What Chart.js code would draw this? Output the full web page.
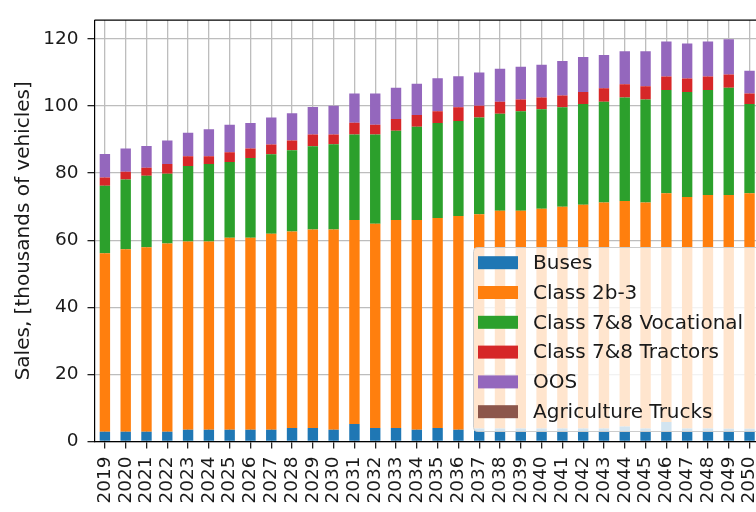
<!DOCTYPE html>
<html>
<head>
<meta charset="utf-8">
<script src="https://cdn.jsdelivr.net/npm/chart.js@4.4.1/dist/chart.umd.min.js"></script>
<style>
  html, body { margin: 0; padding: 0; overflow: hidden; background: #fff; }
  canvas { display: block; }
</style>
</head>
<body>
<canvas id="salesChart" width="780" height="512"></canvas>
<script>
// values, thousands of vehicles
const years = [];
for (let y = 2019; y <= 2050; y++) years.push(String(y));

const buses = [2.9, 2.9, 2.9, 2.9, 3.5, 3.5, 3.5, 3.5, 3.5, 4.0, 4.0, 3.5, 5.2, 4.0, 4.0, 3.5,
  4.0, 3.5, 3.9, 3.9, 3.9, 3.9, 3.9, 3.9, 3.9, 4.5, 3.9, 5.8, 3.9, 3.9, 3.8, 3.8];
const class2b3 = [53.2, 54.4, 55.0, 56.1, 56.1, 56.1, 57.2, 57.2, 58.4, 58.6, 59.2, 59.7, 60.8, 60.9, 62.0, 62.5,
  62.6, 63.7, 63.8, 64.9, 64.9, 65.5, 66.1, 66.7, 67.3, 67.2, 67.3, 68.2, 69.0, 69.6, 69.7, 70.2];
const vocational = [20.1, 20.8, 21.3, 20.8, 22.5, 23.1, 22.6, 23.8, 23.7, 24.2, 24.8, 25.4, 25.5, 26.6, 26.6, 27.8,
  28.3, 28.3, 28.9, 28.9, 29.6, 29.6, 29.6, 30.0, 30.1, 30.8, 30.7, 30.8, 31.3, 31.3, 31.9, 26.6];
const tractors = [2.5, 2.3, 2.4, 2.9, 2.9, 2.3, 2.9, 2.8, 2.9, 2.9, 3.5, 2.9, 3.5, 2.9, 3.5, 3.5,
  3.5, 4.1, 3.5, 3.6, 3.5, 3.5, 3.5, 3.6, 4.0, 4.0, 4.0, 4.0, 4.0, 4.0, 4.0, 3.1];
const oos = [7.0, 6.9, 6.5, 7.0, 7.0, 8.1, 8.2, 7.6, 8.1, 8.1, 8.2, 8.6, 8.7, 9.3, 9.3, 9.3,
  9.9, 9.3, 9.9, 9.8, 9.8, 9.8, 10.3, 10.4, 9.9, 9.8, 10.4, 10.4, 10.4, 10.4, 10.5, 6.8];
const agriculture = years.map(() => 0);

const yTicks = [0, 20, 40, 60, 80, 100, 120];

const FONT = "'DejaVu Sans', sans-serif";
const TICK_SIZE = 18.5;
const LABEL_SIZE = 20;

const series = [
  ["Buses", buses, "#1f77b4"],
  ["Class 2b-3", class2b3, "#ff7f0e"],
  ["Class 7&8 Vocational", vocational, "#2ca02c"],
  ["Class 7&8 Tractors", tractors, "#d62728"],
  ["OOS", oos, "#9467bd"],
  ["Agriculture Trucks", agriculture, "#8c564b"],
];

const datasets = series.map(([label, data, color]) => ({
  label: label,
  data: data,
  backgroundColor: color,
  borderWidth: 0,
  categoryPercentage: 1.0,
  barPercentage: 0.5,
}));

// top spine of the axes box
const frame = {
  id: "frame",
  afterDatasetsDraw(chart) {
    const { ctx, chartArea } = chart;
    ctx.save();
    ctx.strokeStyle = "#000";
    ctx.lineWidth = 1.2;
    ctx.beginPath();
    ctx.moveTo(chartArea.left, chartArea.top);
    ctx.lineTo(chartArea.right, chartArea.top);
    ctx.stroke();
    ctx.restore();
  },
};

// matplotlib-like legend in lower right, semi transparent
const boxLegend = {
  id: "boxLegend",
  afterDatasetsDraw(chart) {
    const ctx = chart.ctx;
    const x = 473.5, y = 247.5, w = 300, h = 184;
    ctx.save();
    ctx.fillStyle = "rgba(255,255,255,0.8)";
    ctx.strokeStyle = "#cccccc";
    ctx.lineWidth = 1;
    ctx.beginPath();
    ctx.roundRect(x, y, w, h, 4);
    ctx.fill();
    ctx.stroke();
    ctx.font = LABEL_SIZE + "px " + FONT;
    ctx.textBaseline = "middle";
    ctx.textAlign = "left";
    chart.data.datasets.forEach((ds, i) => {
      const cy = 262.7 + i * 29.8;
      ctx.fillStyle = ds.backgroundColor;
      ctx.fillRect(478, cy - 6.5, 40, 13);
      ctx.fillStyle = "#1a1a1a";
      ctx.fillText(ds.label, 533, cy + 1);
    });
    ctx.restore();
  },
};

new Chart(document.getElementById("salesChart"), {
  type: "bar",
  data: { labels: years, datasets: datasets },
  plugins: [frame, boxLegend],
  options: {
    responsive: false,
    animation: false,
    devicePixelRatio: 1,
    layout: { padding: { top: 7.5, right: 17, left: 0, bottom: 0 } },
    plugins: {
      legend: { display: false },
      tooltip: { enabled: false },
    },
    scales: {
      x: {
        stacked: true,
        grid: { offset: false, color: "#bdbdbd", lineWidth: 1.3, tickLength: 7, tickColor: "#222" },
        border: { color: "#000", width: 1.2 },
        ticks: {
          autoSkip: false,
          minRotation: 90,
          maxRotation: 90,
          padding: 8,
          color: "#1a1a1a",
          font: { family: FONT, size: TICK_SIZE },
        },
        afterFit(scale) { scale.height = 70.5; },
      },
      y: {
        stacked: true,
        min: 0,
        max: 125.6,
        afterBuildTicks(scale) { scale.ticks = yTicks.map((v) => ({ value: v })); },
        grid: { color: "#bdbdbd", lineWidth: 1.3, tickLength: 7, tickColor: "#222" },
        border: { color: "#000", width: 1.2 },
        ticks: {
          padding: 9,
          color: "#1a1a1a",
          font: { family: FONT, size: TICK_SIZE },
        },
        title: {
          display: true,
          text: "Sales, [thousands of vehicles]",
          color: "#1a1a1a",
          font: { family: FONT, size: LABEL_SIZE },
          padding: { top: 12, bottom: 0 },
        },
        afterFit(scale) { scale.width = 94.5; },
      },
    },
  },
});
</script>
</body>
</html>
